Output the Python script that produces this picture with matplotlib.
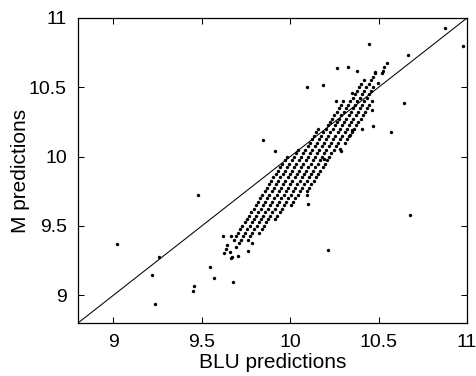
import matplotlib
matplotlib.use("Agg")
import matplotlib.pyplot as plt

plt.rcParams['font.family'] = ['Liberation Sans', 'DejaVu Sans']

# ---- dense diagonal bands (each band = one list of x and y) ----
band0_x = [9.680, 9.693, 9.705, 9.718, 9.730, 9.743, 9.755, 9.768, 9.780, 9.793, 9.805, 9.818, 9.830,
           9.843, 9.855, 9.868, 9.880, 9.893, 9.905, 9.918, 9.930, 9.943, 9.955, 9.968, 9.980]
band0_y = [9.400, 9.425, 9.450, 9.475, 9.500, 9.525, 9.550, 9.575, 9.600, 9.625, 9.650, 9.675, 9.700,
           9.725, 9.750, 9.775, 9.800, 9.825, 9.850, 9.875, 9.900, 9.925, 9.950, 9.975, 10.000]

band1_x = [9.695, 9.708, 9.720, 9.733, 9.745, 9.758, 9.770, 9.783, 9.795, 9.808, 9.820, 9.833, 9.845,
           9.858, 9.870, 9.883, 9.895, 9.908, 9.920, 9.933, 9.945, 9.958, 9.970, 9.983, 9.995, 10.008,
           10.020, 10.033, 10.045]
band1_y = [9.350, 9.375, 9.400, 9.425, 9.450, 9.475, 9.500, 9.525, 9.550, 9.575, 9.600, 9.625, 9.650,
           9.675, 9.700, 9.725, 9.750, 9.775, 9.800, 9.825, 9.850, 9.875, 9.900, 9.925, 9.950, 9.975,
           10.000, 10.025, 10.050]

band2_x = [9.760, 9.773, 9.785, 9.798, 9.810, 9.823, 9.835, 9.848, 9.860, 9.873, 9.885, 9.898, 9.910,
           9.923, 9.935, 9.948, 9.960, 9.973, 9.985, 9.998, 10.010, 10.023, 10.035, 10.048, 10.060,
           10.073, 10.085, 10.098, 10.110, 10.123, 10.135, 10.148, 10.160]
band2_y = [9.400, 9.425, 9.450, 9.475, 9.500, 9.525, 9.550, 9.575, 9.600, 9.625, 9.650, 9.675, 9.700,
           9.725, 9.750, 9.775, 9.800, 9.825, 9.850, 9.875, 9.900, 9.925, 9.950, 9.975, 10.000,
           10.025, 10.050, 10.075, 10.100, 10.125, 10.150, 10.175, 10.200]

band3_x = [9.825, 9.838, 9.850, 9.863, 9.875, 9.888, 9.900, 9.913, 9.925, 9.938, 9.950, 9.963, 9.975,
           9.988, 10.000, 10.013, 10.025, 10.038, 10.050, 10.063, 10.075, 10.088, 10.100, 10.113,
           10.125, 10.138, 10.150, 10.163, 10.175, 10.188, 10.200, 10.213, 10.225, 10.238, 10.250,
           10.263, 10.275, 10.288, 10.300]
band3_y = [9.450, 9.475, 9.500, 9.525, 9.550, 9.575, 9.600, 9.625, 9.650, 9.675, 9.700, 9.725, 9.750,
           9.775, 9.800, 9.825, 9.850, 9.875, 9.900, 9.925, 9.950, 9.975, 10.000, 10.025, 10.050,
           10.075, 10.100, 10.125, 10.150, 10.175, 10.200, 10.225, 10.250, 10.275, 10.300, 10.325,
           10.350, 10.375, 10.400]

band4_x = [9.915, 9.928, 9.940, 9.953, 9.965, 9.978, 9.990, 10.003, 10.015, 10.028, 10.040, 10.053,
           10.065, 10.078, 10.090, 10.103, 10.115, 10.128, 10.140, 10.153, 10.165, 10.178, 10.190,
           10.203, 10.215, 10.228, 10.240, 10.253, 10.265, 10.278, 10.290, 10.303, 10.315, 10.328,
           10.340, 10.353, 10.365, 10.378, 10.390, 10.403, 10.415]
band4_y = [9.550, 9.575, 9.600, 9.625, 9.650, 9.675, 9.700, 9.725, 9.750, 9.775, 9.800, 9.825,
           9.850, 9.875, 9.900, 9.925, 9.950, 9.975, 10.000, 10.025, 10.050, 10.075, 10.100,
           10.125, 10.150, 10.175, 10.200, 10.225, 10.250, 10.275, 10.300, 10.325, 10.350, 10.375,
           10.400, 10.425, 10.450, 10.475, 10.500, 10.525, 10.550]

band5_x = [10.005, 10.018, 10.030, 10.043, 10.055, 10.068, 10.080, 10.093, 10.105, 10.118, 10.130,
           10.143, 10.155, 10.168, 10.180, 10.193, 10.205, 10.218, 10.230, 10.243, 10.255, 10.268,
           10.280, 10.293, 10.305, 10.318, 10.330, 10.343, 10.355, 10.368, 10.380, 10.393, 10.405,
           10.418, 10.430, 10.443, 10.455, 10.468, 10.480]
band5_y = [9.650, 9.675, 9.700, 9.725, 9.750, 9.775, 9.800, 9.825, 9.850, 9.875, 9.900,
           9.925, 9.950, 9.975, 10.000, 10.025, 10.050, 10.075, 10.100, 10.125, 10.150, 10.175,
           10.200, 10.225, 10.250, 10.275, 10.300, 10.325, 10.350, 10.375, 10.400, 10.425, 10.450,
           10.475, 10.500, 10.525, 10.550, 10.575, 10.600]

band6_x = [10.095, 10.108, 10.120, 10.133, 10.145, 10.158, 10.170, 10.183, 10.195, 10.208, 10.220,
           10.233, 10.245, 10.258, 10.270, 10.283, 10.295, 10.308, 10.320, 10.333, 10.345, 10.358,
           10.370, 10.383, 10.395, 10.408, 10.420, 10.433, 10.445, 10.458, 10.470]
band6_y = [9.750, 9.775, 9.800, 9.825, 9.850, 9.875, 9.900, 9.925, 9.950, 9.975, 10.000,
           10.025, 10.050, 10.075, 10.100, 10.125, 10.150, 10.175, 10.200, 10.225, 10.250, 10.275,
           10.300, 10.325, 10.350, 10.375, 10.400, 10.425, 10.450, 10.475, 10.500]

band7_x = [10.310, 10.323, 10.335, 10.348, 10.360, 10.373, 10.385, 10.398, 10.410, 10.423, 10.435,
           10.448, 10.460]
band7_y = [10.100, 10.125, 10.150, 10.175, 10.200, 10.225, 10.250, 10.275, 10.300, 10.325, 10.350,
           10.375, 10.400]

# ---- scattered points ----
scatter_x = [9.022, 9.258, 9.220, 9.237, 9.452, 9.458, 9.479, 9.547, 9.569, 9.677,
             9.620, 9.665, 9.643, 9.637, 9.626, 9.660, 9.671, 9.665, 9.705, 9.762, 9.784,
             9.846, 9.914, 10.095, 10.100, 10.214, 10.190, 10.280, 10.286, 10.338, 10.348,
             10.095, 10.186, 10.265, 10.327, 10.378, 10.259, 10.348, 10.495, 10.480,
             10.446, 10.666, 10.876, 10.980, 10.644, 10.463, 10.406, 10.468, 10.570, 10.680,
             10.518, 10.524, 10.531, 10.549]
scatter_y = [9.370, 9.274, 9.146, 8.935, 9.033, 9.069, 9.723, 9.204, 9.125, 9.096,
             9.428, 9.428, 9.363, 9.334, 9.305, 9.312, 9.276, 9.269, 9.283, 9.319, 9.377,
             10.120, 10.040, 9.720, 9.660, 9.327, 9.980, 10.055, 10.040, 10.156, 10.190,
             10.500, 10.520, 10.640, 10.650, 10.620, 10.404, 10.462, 10.534, 10.610,
             10.810, 10.730, 10.930, 10.800, 10.390, 10.337, 10.200, 10.220, 10.180, 9.580,
             10.600, 10.620, 10.645, 10.678]

diag = [8.8, 11.0]
xticks = [9, 9.5, 10, 10.5, 11]
yticks = [9, 9.5, 10, 10.5, 11]
tick_labels = ['9', '9.5', '10', '10.5', '11']

fig = plt.figure(figsize=(4.77, 3.76), dpi=100)
ax = fig.add_axes([78 / 477, 53 / 376, 389 / 477, 305 / 376])

all_x = (band0_x + band1_x + band2_x + band3_x + band4_x + band5_x + band6_x + band7_x + scatter_x)
all_y = (band0_y + band1_y + band2_y + band3_y + band4_y + band5_y + band6_y + band7_y + scatter_y)

ax.plot(diag, diag, color='black', linewidth=0.75)
ax.scatter(all_x, all_y, s=6, color='black', linewidths=0, zorder=3)

ax.set_xlim(8.8, 11.0)
ax.set_ylim(8.8, 11.0)
ax.set_xticks(xticks)
ax.set_xticklabels(tick_labels)
ax.set_yticks(yticks)
ax.set_yticklabels(tick_labels)
ax.tick_params(direction='in', length=4, width=0.75, top=True, right=True,
               labelsize=14, pad=8)
for sp in ax.spines.values():
    sp.set_linewidth(0.9)

ax.set_xlabel('BLU predictions', fontsize=15, labelpad=1)
ax.set_ylabel('M predictions', fontsize=15, labelpad=-1)

fig.savefig('out.png', dpi=100)
